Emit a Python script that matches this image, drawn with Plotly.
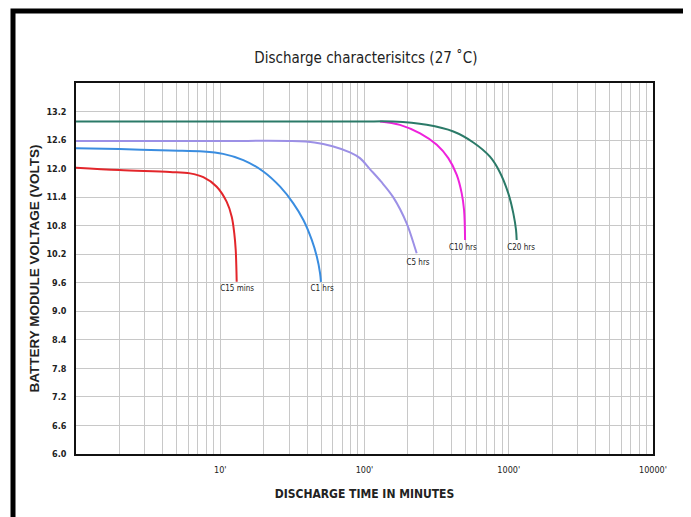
import plotly.graph_objects as go

# ---- data ----
c15_t = [1, 2, 4.48, 6.17, 7.63, 9.45, 11.09, 12.01, 12.51, 12.80, 13.0]
c15_v = [12.02, 11.97, 11.93, 11.90, 11.82, 11.62, 11.30, 10.99, 10.64, 10.29, 9.62]

c1_t = [1, 2, 4.48, 7.63, 10.47, 14.45, 19.88, 26.0, 32.1, 37.7, 43.1, 46.7, 49.2, 49.9]
c1_v = [12.43, 12.41, 12.38, 12.36, 12.31, 12.18, 11.94, 11.62, 11.27, 10.92, 10.50, 10.15, 9.80, 9.62]

c5_t = [1, 10, 30, 45, 60, 79.3, 93, 109, 130, 158, 196, 224, 230]
c5_v = [12.58, 12.58, 12.58, 12.55, 12.47, 12.34, 12.22, 11.99, 11.73, 11.40, 10.85, 10.33, 10.22]

c10_t = [128, 176, 243, 317, 381, 436, 472, 490, 498]
c10_v = [12.99, 12.92, 12.74, 12.50, 12.22, 11.87, 11.48, 11.13, 10.50]

c20_t = [1, 10, 93, 158, 270, 413, 568, 741, 869, 993, 1076, 1123, 1135]
c20_v = [12.99, 12.99, 12.99, 12.99, 12.92, 12.78, 12.55, 12.25, 11.92, 11.48, 11.06, 10.71, 10.50]

series_names = ["C15 mins", "C1 hrs", "C5 hrs", "C10 hrs", "C20 hrs"]
label_t = [13.1, 50.8, 235, 481, 1217]
label_v = [9.47, 9.47, 10.02, 10.33, 10.33]

y_ticks = [6.0, 6.6, 7.2, 7.8, 8.4, 9.0, 9.6, 10.2, 10.8, 11.4, 12.0, 12.6, 13.2]
x_ticks = [10, 100, 1000, 10000]
x_ticktext = ["10'", "100'", "1000'", "10000'"]

colors = ["#e3262b", "#3a8de0", "#9c90e6", "#ee22dc", "#2b7a68"]

narrow = "DejaVu Sans Condensed, Liberation Sans Narrow, sans-serif"

fig = go.Figure()
for t, v, c in zip([c15_t, c1_t, c5_t, c10_t, c20_t],
                   [c15_v, c1_v, c5_v, c10_v, c20_v], colors):
    fig.add_trace(go.Scatter(x=t, y=v, mode="lines",
                             line=dict(color=c, width=2, shape="spline", smoothing=1.0),
                             showlegend=False, hoverinfo="skip"))

fig.add_trace(go.Scatter(x=label_t, y=label_v, mode="text", text=series_names,
                         textfont=dict(family=narrow, size=8, color="#222222"),
                         showlegend=False, hoverinfo="skip"))

minor_vals = [m * 10 ** k for k in range(4) for m in range(2, 10)]

# page has an 8px body offset, margins compensate for it
fig.update_layout(
    width=691, height=517,
    margin=dict(l=68, r=46, t=75, b=71),
    paper_bgcolor="white", plot_bgcolor="white",
    title=dict(text="Discharge characterisitcs (27 \u02daC)", x=0.518, xanchor="center",
               y=0.903, yanchor="middle",
               font=dict(family=narrow, size=15, color="#222222")),
    xaxis=dict(type="log", range=[0, 4], tickvals=x_ticks, ticktext=x_ticktext,
               showgrid=True, gridcolor="#c8c8c8", gridwidth=1,
               minor=dict(tickvals=minor_vals, showgrid=True, gridcolor="#c8c8c8", gridwidth=1, ticks=""),
               showline=True, linecolor="#111111", linewidth=1.5, mirror=True,
               ticks="", ticklabelstandoff=6,
               tickfont=dict(family=narrow, size=9, color="#222222"),
               title=dict(text="<b>DISCHARGE TIME IN MINUTES</b>", standoff=16,
                          font=dict(family=narrow, size=12, color="#222222")),
               zeroline=False),
    yaxis=dict(range=[6.0, 13.8], tickvals=y_ticks, ticktext=[f"<b>{v:.1f}</b>" for v in y_ticks],
               showgrid=True, gridcolor="#c8c8c8", gridwidth=1,
               showline=True, linecolor="#111111", linewidth=1.5, mirror=True,
               ticks="", ticklabelstandoff=6,
               tickfont=dict(family=narrow, size=9, color="#222222"),
               title=dict(text="<b>BATTERY MODULE VOLTAGE (VOLTS)</b>", standoff=4,
                          font=dict(family="Liberation Sans, Arial, sans-serif", size=13.5, color="#222222")),
               zeroline=False),
    shapes=[dict(type="rect", xref="paper", yref="paper",
                 x0=(13 - 76) / 577, x1=(686 - 76) / 577,
                 y0=(454 - 540) / 371, y1=(454 - 11) / 371,
                 line=dict(color="black", width=5), fillcolor="rgba(0,0,0,0)", layer="above")],
)

fig.write_html("out.html")
